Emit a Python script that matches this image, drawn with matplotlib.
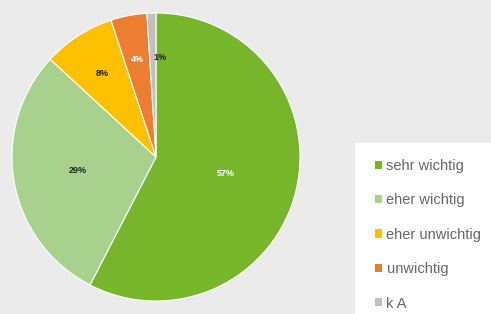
import matplotlib.pyplot as plt
from matplotlib.patches import Rectangle, Patch
import numpy as np

# Daten
kategorien = ["sehr wichtig", "eher wichtig", "eher unwichtig", "unwichtig", "k A"]
werte = [57, 29, 8, 4, 1]
beschriftung = ["57%", "29%", "8%", "4%", "1%"]
farben = ["#77b52b", "#a9d18e", "#ffc000", "#ed7d31", "#c0c0c0"]
textfarben = ["white", "#222222", "#222222", "white", "#222222"]
abstand = [0.5, 0.55, 0.69, 0.69, 0.69]

plt.rcParams['font.family'] = ['Liberation Sans', 'DejaVu Sans']

fig = plt.figure(figsize=(4.91, 3.14), dpi=100)
fig.patch.set_facecolor("#ebebeb")

# weisser Legendenkasten (rechts unten, angeschnitten)
fig.patches.append(Rectangle((355 / 491, 0), 1, 1 - 143 / 314, transform=fig.transFigure,
                             facecolor="white", edgecolor="none", zorder=0))

ax = fig.add_axes([12 / 491, 13 / 314, 288 / 491, 288 / 314])
wedges, _ = ax.pie(werte, colors=farben, startangle=90, counterclock=False,
                   wedgeprops=dict(edgecolor="white", linewidth=0.8))
ax.set_xlim(-1.0, 1.0)
ax.set_ylim(-1.0, 1.0)
ax.set_aspect("equal")

for w, txt, col, r in zip(wedges, beschriftung, textfarben, abstand):
    theta = np.deg2rad((w.theta1 + w.theta2) / 2)
    x, y = r * np.cos(theta), r * np.sin(theta)
    if txt == "1%":
        x += 0.05
    ax.text(x, y, txt, ha="center", va="center", fontsize=6.5, fontweight="bold", color=col)

handles = [Patch(facecolor=c, edgecolor="none") for c in farben]
leg = fig.legend(handles, kategorien, loc="upper left", bbox_to_anchor=(369 / 491, 1 - 153 / 314),
                 frameon=False, fontsize=10.5, labelcolor="#666666", handlelength=0.5,
                 handleheight=0.5, handletextpad=0.3, labelspacing=1.4, borderaxespad=0)

fig.savefig("out.png", dpi=100, facecolor=fig.get_facecolor())
